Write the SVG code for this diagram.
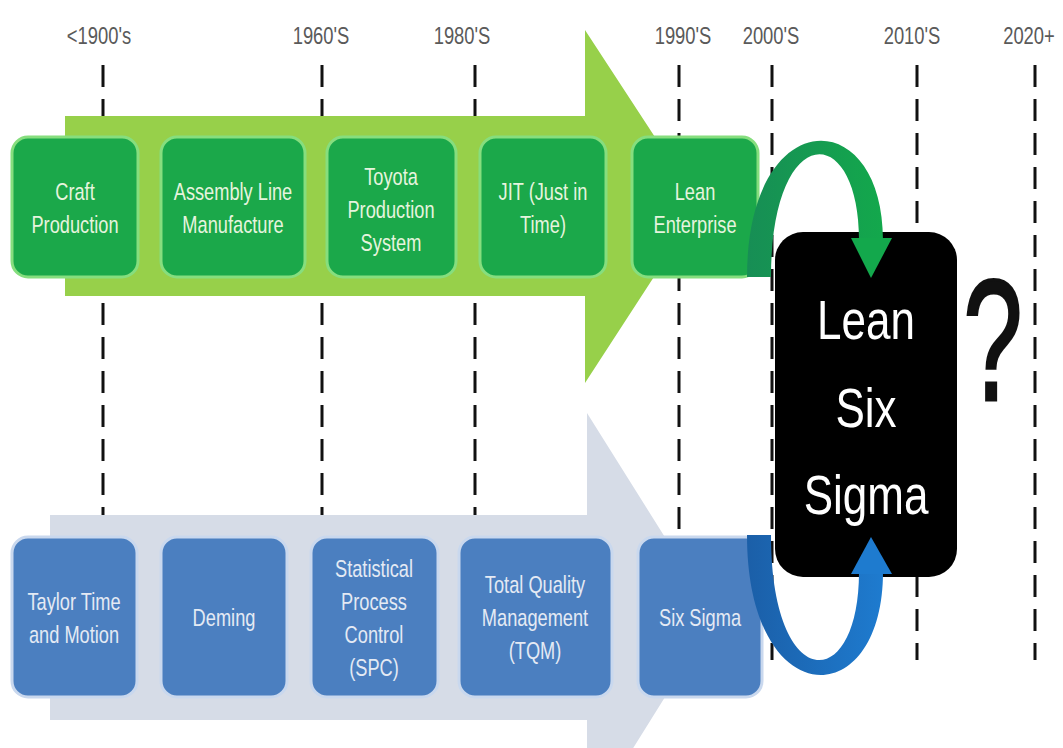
<svg xmlns="http://www.w3.org/2000/svg" width="1063" height="748" viewBox="0 0 1063 748">
<defs>
<style>
.yr{font-family:"Liberation Sans",Arial,sans-serif;font-size:23px;fill:#5a5a5a;text-anchor:middle}
.bt{font-family:"Liberation Sans",Arial,sans-serif;font-size:24px;text-anchor:middle}
.gt{fill:#E6F4DE}
.btx{fill:#E4EAF4}
.gbox{fill:#1BA84A;stroke:#86DE7E;stroke-width:3}
.bbox{fill:#4B7FC0;stroke:#C9D8EE;stroke-width:3}
.dash{stroke:#111;stroke-width:3;stroke-dasharray:22 12;fill:none}
.big{font-family:"Liberation Sans",Arial,sans-serif;font-size:55px;fill:#fff;text-anchor:middle}
</style>
<linearGradient id="ga" x1="0" y1="0" x2="1" y2="0">
<stop offset="0" stop-color="#178E55"/>
<stop offset="1" stop-color="#13A84C"/>
</linearGradient>
<linearGradient id="ba" x1="0" y1="0" x2="1" y2="0">
<stop offset="0" stop-color="#1B5FA8"/>
<stop offset="1" stop-color="#1E7BCF"/>
</linearGradient>
</defs>
<rect width="1063" height="748" fill="#fff"/>

<g id="year-labels">
<g transform="translate(99 0) scale(0.8 1)"><text class="yr" x="0" y="44">&lt;1900's</text></g>
<g transform="translate(321 0) scale(0.8 1)"><text class="yr" x="0" y="44">1960'S</text></g>
<g transform="translate(462 0) scale(0.8 1)"><text class="yr" x="0" y="44">1980'S</text></g>
<g transform="translate(683 0) scale(0.8 1)"><text class="yr" x="0" y="44">1990'S</text></g>
<g transform="translate(771 0) scale(0.8 1)"><text class="yr" x="0" y="44">2000'S</text></g>
<g transform="translate(912 0) scale(0.8 1)"><text class="yr" x="0" y="44">2010'S</text></g>
<g transform="translate(1029 0) scale(0.8 1)"><text class="yr" x="0" y="44">2020+</text></g>
</g>

<g id="timeline">
<line class="dash" x1="103" y1="65" x2="103" y2="660"/>
<line class="dash" x1="322" y1="65" x2="322" y2="660"/>
<line class="dash" x1="475" y1="65" x2="475" y2="660"/>
<line class="dash" x1="679" y1="65" x2="679" y2="660"/>
<line class="dash" x1="772" y1="65" x2="772" y2="660"/>
<line class="dash" x1="917" y1="65" x2="917" y2="660"/>
<line class="dash" x1="1035" y1="65" x2="1035" y2="660"/>
</g>

<g id="lean-arrow">
<polygon points="65,116 585,116 585,30 700,206 585,383 585,296 65,296" fill="#97D04A"/>
</g>
<g id="quality-arrow">
<polygon points="50,515 587,515 587,413 715,617 587,822 587,720 50,720" fill="#D6DCE7"/>
</g>

<g id="craft-production">
<rect class="gbox" x="12" y="137" width="126" height="140" rx="16"/>
<g transform="translate(75 0) scale(0.76 1)" class="bt gt"><text x="0" y="200">Craft</text><text x="0" y="233">Production</text></g>
</g>
<g id="assembly-line">
<rect class="gbox" x="161" y="137" width="144" height="140" rx="16"/>
<g transform="translate(233 0) scale(0.76 1)" class="bt gt"><text x="0" y="200">Assembly Line</text><text x="0" y="233">Manufacture</text></g>
</g>
<g id="toyota-production">
<rect class="gbox" x="327" y="137" width="129" height="140" rx="16"/>
<g transform="translate(391 0) scale(0.76 1)" class="bt gt"><text x="0" y="185">Toyota</text><text x="0" y="218">Production</text><text x="0" y="251">System</text></g>
</g>
<g id="jit">
<rect class="gbox" x="480" y="137" width="126" height="140" rx="16"/>
<g transform="translate(543 0) scale(0.76 1)" class="bt gt"><text x="0" y="200">JIT (Just in</text><text x="0" y="233">Time)</text></g>
</g>
<g id="lean-enterprise">
<rect class="gbox" x="632" y="137" width="126" height="140" rx="16"/>
<g transform="translate(695 0) scale(0.76 1)" class="bt gt"><text x="0" y="200">Lean</text><text x="0" y="233">Enterprise</text></g>
</g>

<g id="taylor">
<rect class="bbox" x="12" y="537" width="125" height="160" rx="16"/>
<g transform="translate(74 0) scale(0.76 1)" class="bt btx"><text x="0" y="610">Taylor Time</text><text x="0" y="643">and Motion</text></g>
</g>
<g id="deming">
<rect class="bbox" x="161" y="537" width="126" height="160" rx="16"/>
<g transform="translate(224 0) scale(0.76 1)" class="bt btx"><text x="0" y="626">Deming</text></g>
</g>
<g id="spc">
<rect class="bbox" x="311" y="537" width="127" height="160" rx="16"/>
<g transform="translate(374 0) scale(0.76 1)" class="bt btx"><text x="0" y="577">Statistical</text><text x="0" y="610">Process</text><text x="0" y="643">Control</text><text x="0" y="676">(SPC)</text></g>
</g>
<g id="tqm">
<rect class="bbox" x="459" y="537" width="153" height="160" rx="16"/>
<g transform="translate(535 0) scale(0.76 1)" class="bt btx"><text x="0" y="593">Total Quality</text><text x="0" y="626">Management</text><text x="0" y="659">(TQM)</text></g>
</g>
<g id="six-sigma">
<rect class="bbox" x="638" y="537" width="124" height="160" rx="16"/>
<g transform="translate(700 0) scale(0.76 1)" class="bt btx"><text x="0" y="626">Six Sigma</text></g>
</g>

<g id="lean-six-sigma">
<rect x="775" y="232" width="182" height="345" rx="28" fill="#000"/>
<g transform="translate(866 0) scale(0.8 1)" class="big"><text x="0" y="339">Lean</text><text x="0" y="427">Six</text><text x="0" y="514">Sigma</text></g>
</g>

<g id="question">
<g transform="translate(993 0) scale(0.62 1)"><text x="0" y="400" font-family="Liberation Sans, Arial, sans-serif" font-size="172" fill="#111" stroke="#111" stroke-width="3" text-anchor="middle">?</text></g>
</g>

<g id="connectors">
<path d="M747,277 C747,102 883,102 883,240 L859,240 C859,120 771,120 771,277 Z" fill="url(#ga)"/>
<polygon points="851,238 892,238 871,278" fill="#13A84C"/>
<path d="M747,535 C747,715 883,715 883,572 L859,572 C859,695 771,695 771,535 Z" fill="url(#ba)"/>
<polygon points="851,574 892,574 871,537" fill="#1E7BCF"/>
</g>
</svg>
